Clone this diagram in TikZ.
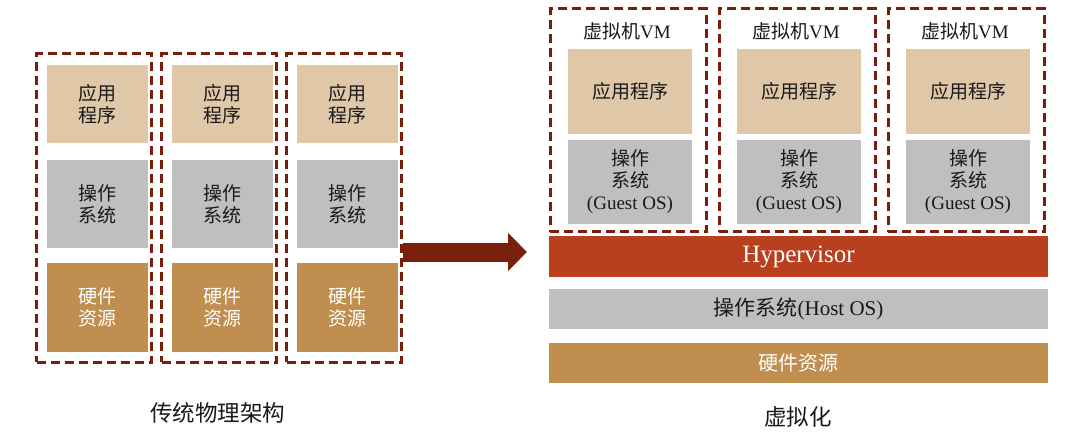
\documentclass[tikz,border=0pt]{standalone}
\usepackage{fontspec}
\setmainfont{Liberation Serif}
\newfontfamily\cjk{Noto Sans CJK SC}
\usetikzlibrary{arrows.meta,positioning}

\definecolor{appc}{HTML}{DFC7A8}
\definecolor{osc}{HTML}{BFBFC1}
\definecolor{hwc}{HTML}{C08E4E}
\definecolor{hypc}{HTML}{B8401F}
\definecolor{dashc}{HTML}{7B1D0B}
\definecolor{arrowc}{HTML}{78200A}

\begin{document}
\begin{tikzpicture}[
  x=1pt, y=-1pt,
  every node/.style={inner sep=0pt, align=center, text=black!90,
    font=\fontsize{19}{22}\selectfont},
  frame/.style={draw=dashc, line width=3pt, dash pattern=on 9pt off 5pt},
  layer/.style={minimum width=#1},
  bigarrow/.style={draw=arrowc, line width=19pt,
    -{Triangle[length=19pt, width=37pt]}},
]
\useasboundingbox (0,0) rectangle (1080,433);

% traditional physical machines
\foreach \i/\x in {1/97.5, 2/222.5, 3/347.5} {
  \node[frame, minimum width=115pt, minimum height=308pt] (phy\i)
    at (\x-3.5, 208) {};
  \node[layer=101pt, fill=appc, minimum height=78pt] (app\i)
    at (\x, 104) {\cjk 应用\\\cjk 程序};
  \node[layer=101pt, fill=osc, minimum height=88pt] (os\i)
    at (\x, 204) {\cjk 操作\\\cjk 系统};
  \node[layer=101pt, fill=hwc, minimum height=89pt, text=white] (hw\i)
    at (\x, 307.5) {\cjk 硬件\\\cjk 资源};
}
\node[font=\cjk\fontsize{22.5}{26}\selectfont] (phycap) at (217.5, 413)
  {传统物理架构};

% virtual machines
\foreach \i/\x in {1/630, 2/799, 3/968} {
  \node[frame, minimum width=156pt, minimum height=223pt] (vm\i)
    at (\x-2, 120.5) {};
  \node (vmname\i) at (\x-3, 31) {{\cjk 虚拟机}VM};
  \node[layer=124pt, fill=appc, minimum height=85pt] (vapp\i)
    at (\x, 91.5) {\cjk 应用程序};
  \node[layer=124pt, fill=osc, minimum height=84pt] (guest\i)
    at (\x, 182) {{\cjk 操作}\\{\cjk 系统}\\(Guest OS)};
}
\node[layer=499pt, fill=hypc, minimum height=41pt, text=white,
  font=\fontsize{25}{28}\selectfont] (hyp) at (798.5, 256.5) {Hypervisor};
\node[layer=499pt, fill=osc, minimum height=40pt,
  font=\fontsize{21}{24}\selectfont] (host)
  at (798.5, 309) {{\cjk 操作系统}(Host OS)};
\node[layer=499pt, fill=hwc, minimum height=40pt, text=white,
  font=\fontsize{20}{24}\selectfont] (vhw)
  at (798.5, 363) {\cjk 硬件资源};
\node[font=\cjk\fontsize{22.5}{26}\selectfont] (vcap) at (798, 417)
  {虚拟化};

\coordinate (tip) at (527, 252);
\draw[bigarrow] (phy3.east |- tip) -- (tip);
\end{tikzpicture}
\end{document}
